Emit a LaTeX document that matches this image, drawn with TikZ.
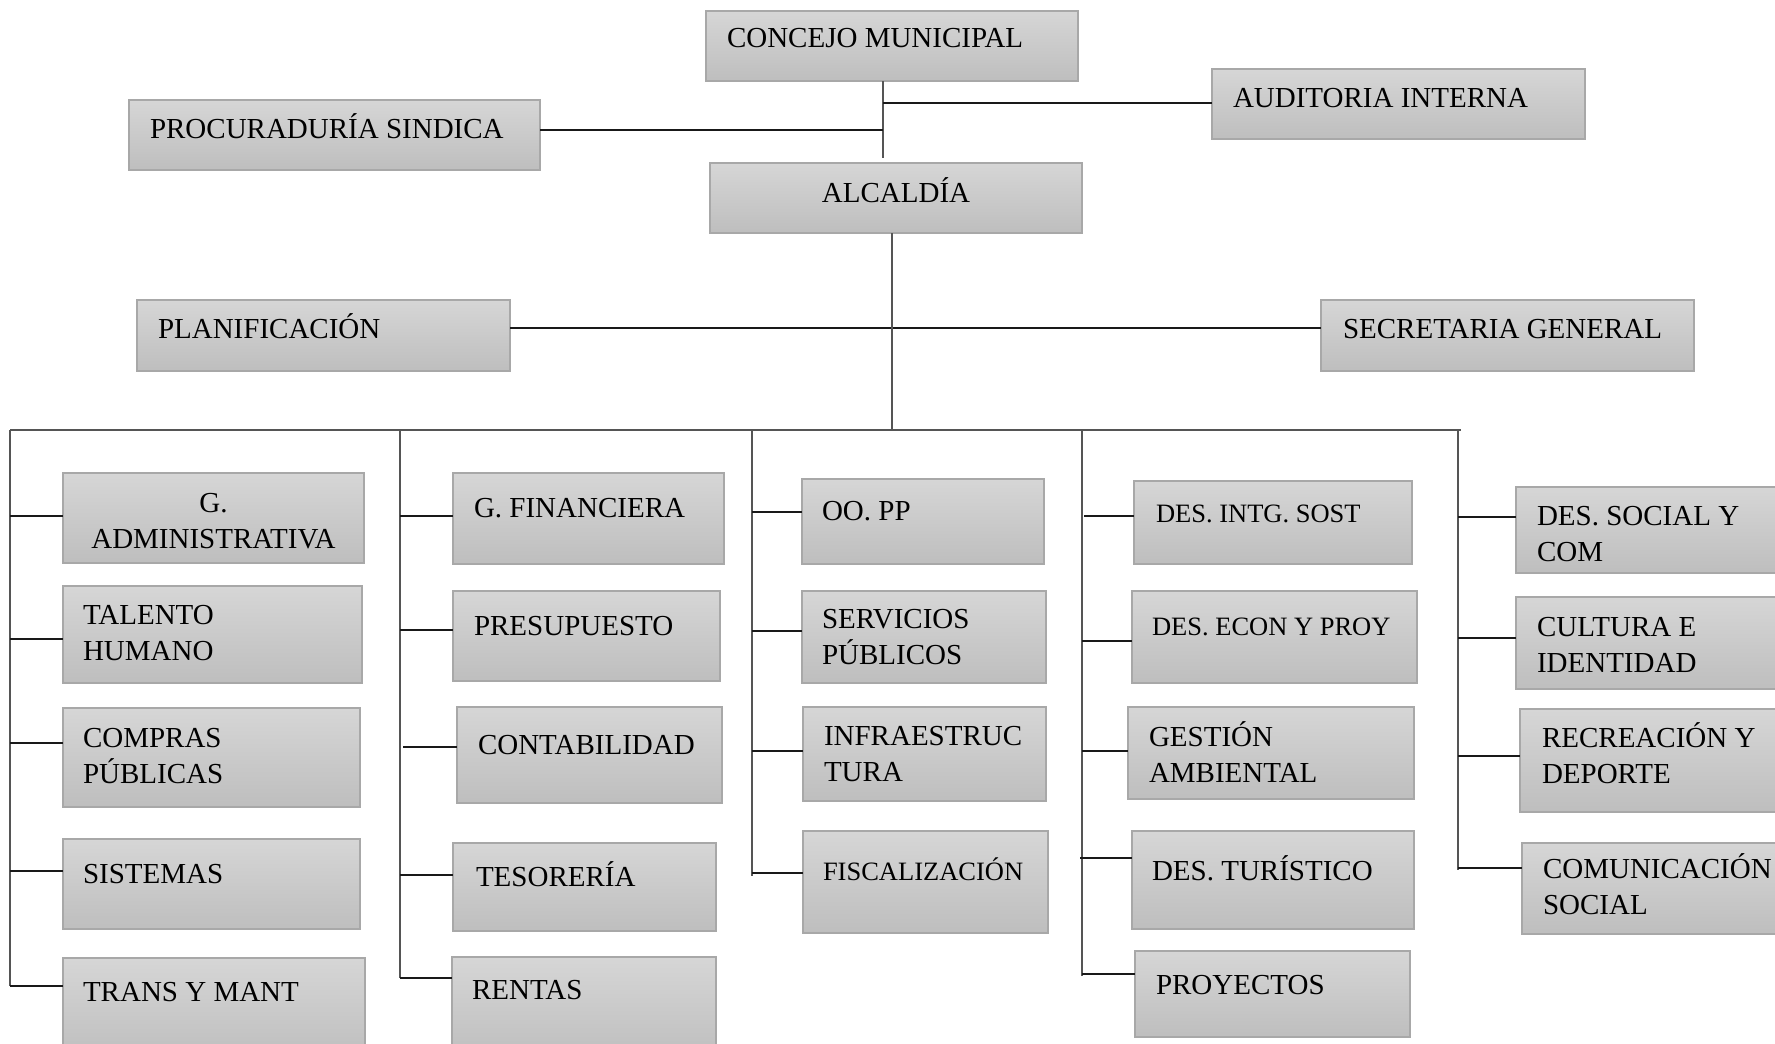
\documentclass[tikz,border=0pt]{standalone}
\usepackage{fontspec}
\setmainfont{Liberation Serif}
\definecolor{boxtop}{RGB}{214,214,214}
\definecolor{boxbot}{RGB}{190,190,190}
\definecolor{boxline}{RGB}{168,168,168}
\definecolor{trunk}{RGB}{85,85,85}
\definecolor{twig}{RGB}{25,25,25}
\tikzset{
  obox/.style={draw=boxline, line width=1.2pt, top color=boxtop, bottom color=boxbot,
    inner sep=0pt, outer sep=0pt, anchor=north west},
  otext/.style={inner sep=0pt, outer sep=0pt, font=\fontsize{29}{36}\selectfont},
  osmall/.style={inner sep=0pt, outer sep=0pt, font=\fontsize{26.5}{33}\selectfont},
  trunkline/.style={draw=trunk, line width=2pt},
  twigline/.style={draw=twig, line width=1.5pt},
}
% #1 name, #2 x1, #3 y1, #4 x2, #5 y2, #6 tx, #7 ty, #8 text style, #9 text
\newcommand\orgbox[9]{%
  \node[obox, minimum width={(#4)-(#2)}, minimum height={(#5)-(#3)}] (#1) at (#2,#3) {};
  \node[#8, anchor=base west] (#1t) at (#6,#7) {\begin{tabular}[t]{@{}l@{}}#9\end{tabular}};
}
% #1 column x, #2 y, #3 box name
\newcommand\twig[3]{%
  \coordinate (k-#3) at (#1,#2);
  \draw[twigline] (k-#3) -- (k-#3 -| #3.west);
}
\begin{document}
\begin{tikzpicture}[x=1pt,y=-1pt]
\useasboundingbox (0,0) rectangle (1775,1044);
\clip (0,0) rectangle (1775,1044);
\fill[white] (0,0) rectangle (1775,1044);

% ---- top level ----
\orgbox{concejo}{706}{11}{1078}{81}{727}{47}{otext}{CONCEJO MUNICIPAL}
\orgbox{audit}{1212}{69}{1585}{139}{1233}{107}{otext}{AUDITORIA INTERNA}
\orgbox{procu}{129}{100}{540}{170}{150}{138}{otext}{PROCURADURÍA SINDICA}
\node[obox, minimum width=372, minimum height=70] (alc) at (710,163) {};
\node[otext, anchor=base] (alct) at (896,202) {ALCALDÍA};
\orgbox{plan}{137}{300}{510}{371}{158}{338}{otext}{PLANIFICACIÓN}
\orgbox{sec}{1321}{300}{1694}{371}{1343}{338}{otext}{SECRETARIA GENERAL}

\coordinate (cv) at (883,158);
\draw[trunkline] (cv |- concejo.south) -- (cv);
\coordinate (ka) at (883,103);
\draw[twigline] (ka) -- (ka -| audit.west);
\coordinate (kp) at (883,130);
\draw[twigline] (kp) -- (kp -| procu.east);
\coordinate (ks) at (0,328);
\draw[twigline] (ks -| plan.east) -- (ks -| sec.west);
\coordinate (busM) at (892,430);
\draw[trunkline] (busM |- alc.south) -- (busM);
\coordinate (busL) at (10,430);
\coordinate (busR) at (1461,430);
\draw[trunkline] (busL) -- (busR);

% ---- column 1 ----
\node[obox, minimum width=301, minimum height=90] (gadm) at (63,473) {};
\node[otext, anchor=base] (gadmt) at (213.5,512) {\begin{tabular}[t]{@{}c@{}}G.\\ADMINISTRATIVA\end{tabular}};
\orgbox{tal}{63}{586}{362}{683}{83}{624}{otext}{TALENTO\\HUMANO}
\orgbox{comp}{63}{708}{360}{807}{83}{747}{otext}{COMPRAS\\PÚBLICAS}
\orgbox{sis}{63}{839}{360}{929}{83}{883}{otext}{SISTEMAS}
\orgbox{trans}{63}{958}{365}{1060}{83}{1001}{otext}{TRANS Y MANT}
\draw[trunkline] (busL) -- (10,986) coordinate (c1end);
\twig{10}{516}{gadm}
\twig{10}{639}{tal}
\twig{10}{743}{comp}
\twig{10}{871}{sis}
\twig{10}{986}{trans}

% ---- column 2 ----
\orgbox{gfin}{453}{473}{724}{564}{474}{517}{otext}{G. FINANCIERA}
\orgbox{pres}{453}{591}{720}{681}{474}{635}{otext}{PRESUPUESTO}
\orgbox{cont}{457}{707}{722}{803}{478}{754}{otext}{CONTABILIDAD}
\orgbox{tes}{453}{843}{716}{931}{476}{886}{otext}{TESORERÍA}
\orgbox{rent}{452}{957}{716}{1060}{472}{999}{otext}{RENTAS}
\coordinate (c2top) at (400,430);
\draw[trunkline] (c2top) -- (400,978);
\twig{400}{516}{gfin}
\twig{400}{630}{pres}
\twig{403}{747}{cont}
\twig{400}{875}{tes}
\twig{400}{978}{rent}

% ---- column 3 ----
\orgbox{oopp}{802}{479}{1044}{564}{822}{520}{otext}{OO. PP}
\orgbox{serv}{802}{591}{1046}{683}{822}{628}{otext}{SERVICIOS\\PÚBLICOS}
\orgbox{infra}{803}{707}{1046}{801}{824}{745}{otext}{INFRAESTRUC\\TURA}
\orgbox{fisc}{803}{831}{1048}{933}{823}{880}{osmall}{FISCALIZACIÓN}
\coordinate (c3top) at (752,430);
\draw[trunkline] (c3top) -- (752,876);
\twig{752}{512}{oopp}
\twig{752}{631}{serv}
\twig{752}{751}{infra}
\twig{752}{873}{fisc}

% ---- column 4 ----
\orgbox{dis}{1134}{481}{1412}{564}{1156}{522}{osmall}{DES. INTG. SOST}
\orgbox{dep}{1132}{591}{1417}{683}{1152}{635}{osmall}{DES. ECON Y PROY}
\orgbox{gamb}{1128}{707}{1414}{799}{1149}{746}{otext}{GESTIÓN\\AMBIENTAL}
\orgbox{dtur}{1132}{831}{1414}{929}{1152}{880}{otext}{DES. TURÍSTICO}
\orgbox{proy}{1135}{951}{1410}{1037}{1156}{994}{otext}{PROYECTOS}
\coordinate (c4top) at (1082,430);
\draw[trunkline] (c4top) -- (1082,976);
\twig{1084}{516}{dis}
\twig{1082}{641}{dep}
\twig{1082}{751}{gamb}
\twig{1080}{858}{dtur}
\twig{1082}{974}{proy}

% ---- column 5 ----
\orgbox{dsoc}{1516}{487}{1800}{573}{1537}{525}{otext}{DES. SOCIAL Y\\COM}
\orgbox{cult}{1516}{597}{1800}{689}{1537}{636}{otext}{CULTURA E\\IDENTIDAD}
\orgbox{recr}{1520}{709}{1800}{812}{1542}{747}{otext}{RECREACIÓN Y\\DEPORTE}
\orgbox{comu}{1522}{843}{1800}{934}{1543}{878}{otext}{COMUNICACIÓN\\SOCIAL}
\coordinate (c5top) at (1458,430);
\draw[trunkline] (c5top) -- (1458,870);
\twig{1458}{517}{dsoc}
\twig{1458}{638}{cult}
\twig{1458}{756}{recr}
\twig{1458}{868}{comu}
\end{tikzpicture}
\end{document}
